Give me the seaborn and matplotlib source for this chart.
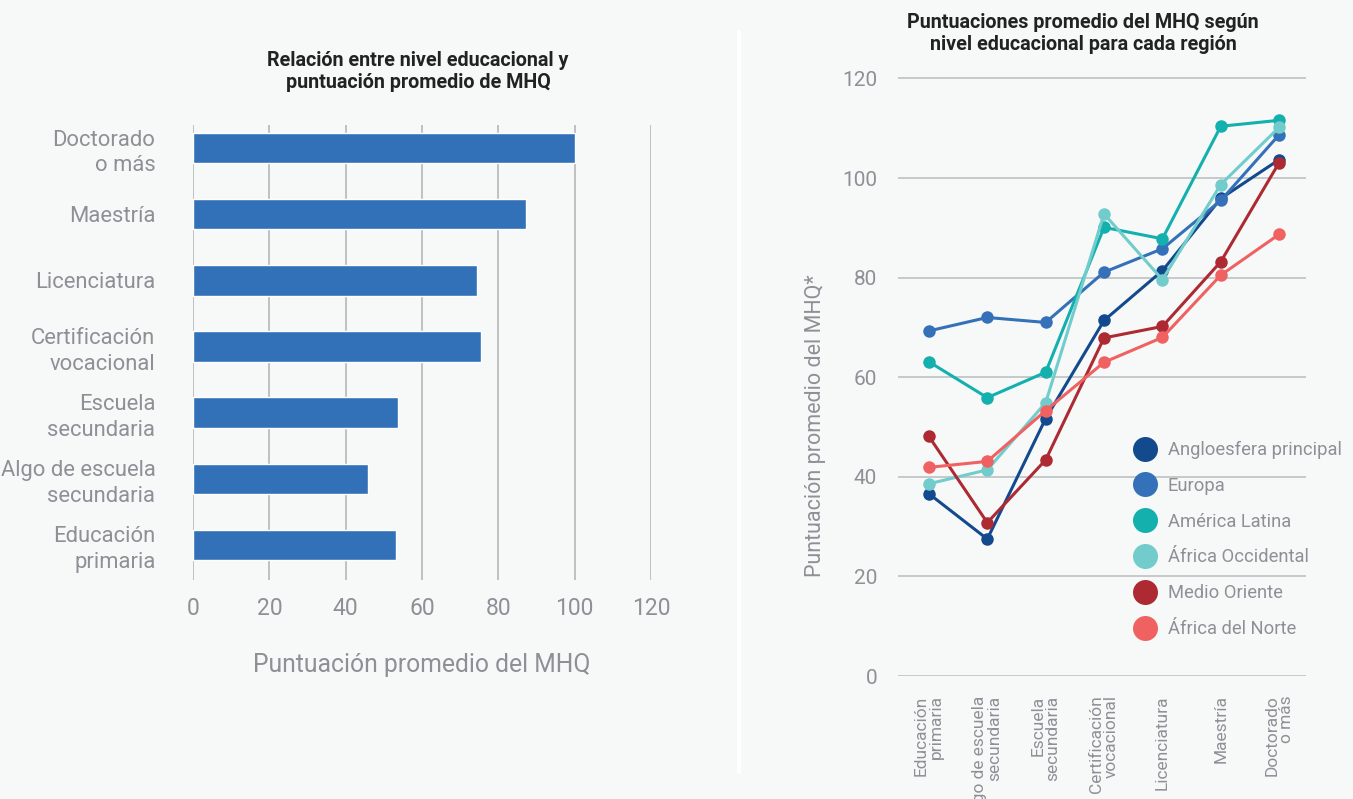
import matplotlib
matplotlib.use("Agg")
import matplotlib.pyplot as plt
from matplotlib.lines import Line2D
import seaborn as sns
import pandas as pd

# --- data -------------------------------------------------------------
levels_bar = ["Doctorado\no más", "Maestría", "Licenciatura",
              "Certificación\nvocacional", "Escuela\nsecundaria",
              "Algo de escuela\nsecundaria", "Educación\nprimaria"]
bar_scores = [100.1, 87.2, 74.4, 75.4, 53.7, 45.8, 53.2]

levels_line = ["Educación\nprimaria", "Algo de escuela\nsecundaria",
               "Escuela\nsecundaria", "Certificación\nvocacional",
               "Licenciatura", "Maestría", "Doctorado\no más"]
regions = ["Angloesfera principal", "Europa", "América Latina",
           "África Occidental", "Medio Oriente", "África del Norte"]
angloesfera = [36.6, 27.5, 51.7, 71.4, 81.4, 95.9, 103.7]
europa = [69.3, 72.0, 71.0, 81.1, 85.8, 95.5, 108.7]
america_latina = [63.1, 55.9, 61.0, 90.1, 87.8, 110.4, 111.6]
africa_occidental = [38.6, 41.4, 54.9, 92.8, 79.6, 98.7, 110.2]
medio_oriente = [48.1, 30.8, 43.4, 67.9, 70.2, 83.2, 103.1]
africa_norte = [41.9, 43.1, 53.3, 63.0, 68.0, 80.5, 88.7]
region_colors = ["#134a8e", "#3471b9", "#13b0ad", "#72cccb", "#ad2a33", "#f06262"]

# --- style ------------------------------------------------------------
BG = "#f7f9f9"
TXT = "#8c9196"
GRID = "#b9bcbe"
sns.set_theme(style="white")
plt.rcParams["font.family"] = ["Roboto", "DejaVu Sans"]

fig = plt.figure(figsize=(13.53, 7.99), dpi=100, facecolor=BG)

# --- left: horizontal bar chart ----------------------------------------
ax1 = fig.add_axes([193 / 1353, 1 - 580 / 799, (651 - 193) / 1353, (580 - 125) / 799])
ax1.set_facecolor(BG)
df_bar = pd.DataFrame({"nivel": levels_bar, "puntuacion": bar_scores})
sns.barplot(data=df_bar, y="nivel", x="puntuacion", orient="h",
            color="#3271b8", saturation=1, width=0.46, ax=ax1, zorder=3)
ax1.set_xlim(0, 120)
ax1.set_ylim(6.53, -0.35)
ax1.set_xticks(range(0, 121, 20))
for v in range(0, 121, 20):
    ax1.axvline(v, color=GRID, lw=1.3, zorder=1)
for s in ax1.spines.values():
    s.set_visible(False)
ax1.tick_params(axis="x", length=0, labelsize=16.5, colors=TXT, pad=12)
ax1.tick_params(axis="y", length=0, labelsize=15.8, colors=TXT, pad=27)
for lbl in ax1.get_yticklabels():
    lbl.set_horizontalalignment("right")
    lbl.set_multialignment("right")
    lbl.set_linespacing(1.28)
ax1.set_ylabel("")
ax1.set_xlabel("Puntuación promedio del MHQ", fontsize=17.8, color=TXT, labelpad=24)
fig.text(418 / 1353, 1 - 72 / 799,
         "Relación entre nivel educacional y\npuntuación promedio de MHQ",
         ha="center", va="center", fontsize=14.2, fontweight="bold",
         color="#222222", linespacing=1.2)

# --- right: line chart per region -------------------------------------
ax2 = fig.add_axes([898 / 1353, 1 - 676 / 799, (1306 - 898) / 1353, (676 - 70) / 799])
ax2.set_facecolor(BG)
series = [angloesfera, europa, america_latina, africa_occidental,
          medio_oriente, africa_norte]
rows = []
for reg, vals in zip(regions, series):
    for i, v in enumerate(vals):
        rows.append({"region": reg, "pos": i, "puntuacion": v})
df_line = pd.DataFrame(rows)
sns.lineplot(data=df_line, x="pos", y="puntuacion", hue="region",
             hue_order=regions, palette=region_colors, marker="o",
             markersize=9, markeredgewidth=0, linewidth=2.2,
             legend=False, ax=ax2, zorder=3)
ax2.set_xlim(-0.53, 6.46)
ax2.set_ylim(0, 121.7)
ax2.set_yticks(range(0, 121, 20))
ax2.grid(axis="y", color=GRID, lw=1.1, zorder=0)
ax2.grid(axis="x", visible=False)
for s in ax2.spines.values():
    s.set_visible(False)
ax2.set_xticks(range(len(levels_line)))
ax2.set_xticklabels(levels_line, rotation=90, fontsize=12.5, color=TXT,
                    ha="center", va="top", multialignment="right",
                    linespacing=1.0)
ax2.tick_params(axis="y", length=0, labelsize=15, colors=TXT, pad=15)
ax2.tick_params(axis="x", length=0, pad=14)
ax2.set_xlabel("")
ax2.set_ylabel("Puntuación promedio del MHQ*", fontsize=15.5, color=TXT)
ax2.yaxis.set_label_coords(-0.176, 0.4125)
fig.text(1083 / 1353, 1 - 33 / 799,
         "Puntuaciones promedio del MHQ según\nnivel educacional para cada región",
         ha="center", va="center", fontsize=14.2, fontweight="bold",
         color="#222222", linespacing=1.2)

handles = [Line2D([0], [0], marker="o", color="none", markerfacecolor=c,
                  markeredgewidth=0, markersize=18) for c in region_colors]
ax2.legend(handles, regions, loc="upper left",
           bbox_to_anchor=(1130 / 1353, 1 - 441 / 799),
           bbox_transform=fig.transFigure, frameon=False, fontsize=13.2,
           labelcolor=TXT, handletextpad=0.45, labelspacing=0.97,
           handlelength=1.6, borderaxespad=0, borderpad=0)

# panel divider
fig.add_artist(Line2D([739 / 1353, 739 / 1353], [1 - 32 / 799, 1 - 772 / 799],
                      transform=fig.transFigure, color="white", lw=3))
fig.text(-0.004, 1 - 735 / 799, ":", fontsize=14, fontweight="bold",
         color="#111111", ha="left", va="center")

fig.savefig("out.png", dpi=100, facecolor=BG)
